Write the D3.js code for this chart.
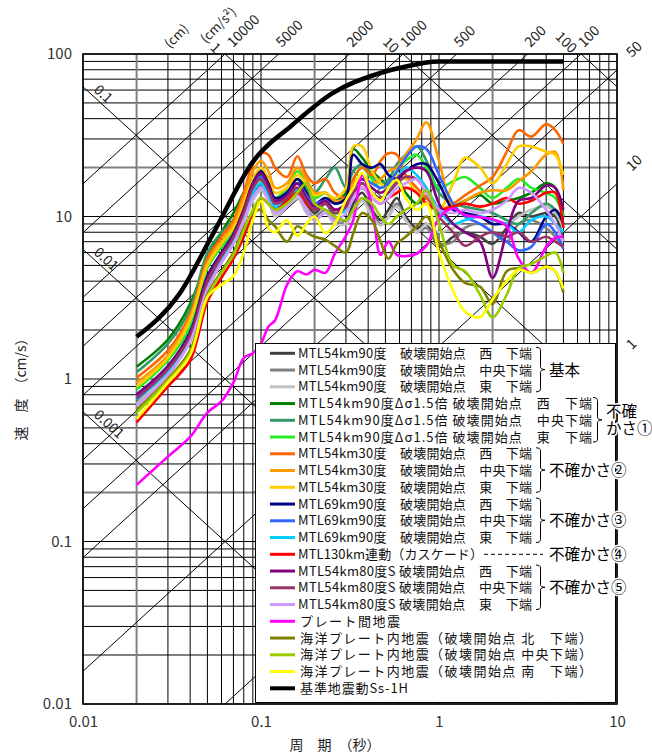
<!DOCTYPE html>
<html>
<head>
<meta charset="utf-8">
<script src="https://cdn.jsdelivr.net/npm/d3@7"></script>
<style>
body { margin: 0; background: #fff; }
text { font-family: "Noto Sans CJK JP", "Noto Sans", sans-serif; }
</style>
</head>
<body>
<svg id="chart" width="652" height="753"></svg>
<script>
// periods (s) shared by the computed spectra
const periods = [0.02,0.03,0.04,0.05,0.06,0.07,0.08,0.09,0.1,0.11,0.12,0.14,0.16,0.18,0.2,0.23,0.26,0.3,0.33,0.37,
  0.42,0.47,0.52,0.58,0.65,0.75,0.85,1.0,1.2,1.4,1.7,2.0,2.4,2.8,3.3,4.0,4.5,5.0];

// velocity response (cm/s)
const kihonW = [0.73,1.15,1.8,3.8,5.5,7.2,10,13.5,16,14,11,13,15,12,10.5,12,10,9.5,12,14,11,9.5,11,13,10,8.5,9,6.5,7.5,8,7.5,6.8,8.5,10.5,10,10.5,10,7];
const kihonC = [0.72,1.1,1.75,3.6,5.3,7,9.5,13,15,13,10.5,12,14,11,10,11,9.5,9,11,13,10.5,9,10,12,9.5,8,8.5,6.8,7,8.5,9,8,7,9,9.5,8.5,7.5,6.5];
const kihonE = [0.7,1.1,1.7,3.5,5.2,6.8,9.2,12.5,14.5,12.5,10,11.5,13,10.5,9.5,10.5,9,9,10.5,12.5,10,8.8,10,11.5,9.5,8,9,8,8.5,9.5,10,9.5,9,10,11,11.5,10.5,8.5];
const dsigW = [1.19,1.75,2.9,5.5,8,10.5,14,17,18,14.5,12.5,14,17,15,13,14,12.5,14,26,23,19,17,15.5,17,14,12,13,11,11.5,12.5,13.5,12,12.5,13,14,16,15,10];
const dsigC = [1.1,1.65,2.7,6,8,9.5,12.5,16,17,15,13,14.5,16,15,14,17,20,15,19,21,18,16,17,21,24,27,22,14,12,11.5,11,10.5,9.5,9,10.5,12,11,9];
const dsigE = [0.86,1.3,2.1,4.8,6.5,8,11,15,17,15,13,15,19,16,13,14,12,13,17,20,17,15,16,19,22,24,20,15,16.5,17.5,15,13,15,17,15,14,13,10];
const dip30W = [1.02,1.5,2.5,5.5,7.5,9.5,14,21,24.5,24,20,17.5,23.5,18,16,17,14,13,17,20,18,22,24.5,24,18,15,13,11,12,13.5,15.5,17.5,25,34,31,37,34,28];
const dip30C = [0.95,1.4,2.4,5.2,7,9,13,19,22,19,15,16,20,17,14,14,12.5,13,16,18,16,17,19,20,24,30,38,22,11.5,12.5,14,14.5,14.5,16.5,19,24,25,14.5];
const dip30E = [0.9,1.35,2.3,5,6.8,8.5,12,17,20,17,14,15,18,16,13.5,14,13,15,27,27,19,16,15,18,17,14,12,11,16,23,20,16,21,27,27,25,24,18];
const len69W = [0.8,1.2,1.95,4.3,6,7.8,11,16,19,16,13,14,17,14,12,13,12,13,24,21,20,21,18,17,19,21,21,16,11,10.5,10,9,9,8,7,10,11,9];
const len69C = [0.78,1.15,1.9,4.1,5.8,7.5,10.5,15,17.5,15,12,13.5,16,13.5,12,12.5,11,12,15,17,16,15,16,19,23,27,26,18,12,10,9,8,7,6.2,6.5,9,8,6.3];
const len69E = [0.75,1.12,1.85,4,5.6,7.2,10,14,16,13.5,11.5,12.5,14.5,12.5,11,12,10.5,11,14,16,14,13,14,17,20,18,15,11,9,9.5,10,9.5,9,8,9.5,10,9,8];
const cascade130 = [0.54,0.9,1.3,3,4.2,5.5,7.5,10.5,13,12,11,12.5,14,12,11,12,11,11.5,14,15,13,12,13,14,15,14,12,11,11.5,12,11.5,12,13,12,12.5,14,14,8.5];
const dip80W = [0.8,1.2,1.9,4.2,5.9,7.7,11,16,18.5,15.5,12.5,13.5,16,13,11.5,12.5,11,12,15,17,15,14,15,17,19,20,19,12,9,8,7,4.2,8,12.5,13,15.5,15,11];
const dip80C = [0.76,1.15,1.85,4,5.7,7.4,10.5,15,17,14.5,12,13,15,12.5,11,12,10.5,11.5,14,16,14,13,14,16,17.5,17,14,10,8,6.6,7.5,8,7.5,8,7,7.5,7,6.5];
const dip80E = [0.68,1.05,1.7,3.6,5.2,6.8,9.5,13,15,12.5,10.5,11.5,13.5,11,9.5,10.5,9.5,10.5,13,15,13,12,13,15,16,17,14,11,10.5,11,10.5,11,12.5,15,14,11,9,7];
const interplate = [0.223,0.333,0.44,0.62,0.73,0.95,1.35,1.44,1.65,2.1,2.3,3.8,4.6,4.4,4.7,4.5,5.9,7.6,9.5,18,11.5,5.8,7,5.8,5.7,5.9,6.6,9.8,11.2,10.2,9.9,9.6,8.7,5.5,4.5,6.5,7.4,7.5];
const oceanN = [0.645,1.0,1.5,3.3,4.6,6,8.5,10.5,11,9.5,8.7,7,8.7,8,7.5,7.2,6.6,6,7.9,10.5,9.5,7,5.5,6.8,7.5,8.7,10,7,4.7,3.9,3.7,2.9,4.6,4.8,4.5,4.9,4.6,3.4];
const oceanC = [0.62,0.98,1.45,3.2,4.5,5.8,8.2,11,13,12,11,12,14,16,12,11,10,9.5,11,13,12,10,9,10,11,12,14.5,9,5,4.6,3.3,2.4,3.3,4.8,5.1,5.7,6,4.5];
const oceanS = [0.57,0.95,1.4,3.2,3.8,4.3,6,9.5,12.4,8.5,8,9.5,7.6,9,10,7.9,9,12.6,15,18.5,14,12.6,15,16.8,13,11,12,6,3.5,2.6,2.4,3.1,4,4.7,4.5,4.9,4.6,3.6];

// design spectrum Ss-1H
const ssPeriods = [0.02,0.035,0.054,0.09,0.15,0.25,0.5,0.6,1.0,5.0];
const ssValues = [1.82,3.37,7.9,21.7,36.6,57,78,82,90,90];

const seriesValues = [kihonW,kihonC,kihonE,dsigW,dsigC,dsigE,dip30W,dip30C,dip30E,len69W,len69C,len69E,
  cascade130,dip80W,dip80C,dip80E,interplate,oceanN,oceanC,oceanS];

const legendLabels = [
  "MTL54km90度　破壊開始点　西　下端",
  "MTL54km90度　破壊開始点　中央下端",
  "MTL54km90度　破壊開始点　東　下端",
  "MTL54km90度Δσ1.5倍 破壊開始点　西　下端",
  "MTL54km90度Δσ1.5倍 破壊開始点　中央下端",
  "MTL54km90度Δσ1.5倍 破壊開始点　東　下端",
  "MTL54km30度　破壊開始点　西　下端",
  "MTL54km30度　破壊開始点　中央下端",
  "MTL54km30度　破壊開始点　東　下端",
  "MTL69km90度　破壊開始点　西　下端",
  "MTL69km90度　破壊開始点　中央下端",
  "MTL69km90度　破壊開始点　東　下端",
  "MTL130km連動（カスケード）",
  "MTL54km80度S 破壊開始点　西　下端",
  "MTL54km80度S 破壊開始点　中央下端",
  "MTL54km80度S 破壊開始点　東　下端",
  "プレート間地震",
  "海洋プレート内地震（破壊開始点 北　下端）",
  "海洋プレート内地震（破壊開始点 中央下端）",
  "海洋プレート内地震（破壊開始点 南　下端）",
  "基準地震動Ss-1H"
];
const seriesColors = ["#404040","#808080","#c0c0c0","#008000","#339966","#22ee22","#ff6600","#ff9900","#ffcc00",
  "#000080","#3366ff","#00ccff","#ff0000","#800080","#993366","#cc99ff","#ff00ff","#808000","#99cc00","#ffff00","#000000"];
const legendWidths = [234,234,234,294,294,294,234,234,234,234,234,234,185,234,234,234,100,292,292,292,108];

const groupLabels = [
  {first: 0, last: 2, text: ["基本"]},
  {first: 3, last: 5, text: ["不確", "かさ①"]},
  {first: 6, last: 8, text: ["不確かさ②"]},
  {first: 9, last: 11, text: ["不確かさ③"]},
  {first: 13, last: 15, text: ["不確かさ⑤"]}
];

const dispLines = [0.001, 0.01, 0.1, 1, 10, 100];           // cm
const accLines = [1, 10, 50, 100, 200, 500, 1000, 2000, 5000, 10000]; // cm/s2

const xTicks = [0.01, 0.1, 1, 10];
const xTickLabels = ["0.01", "0.1", "1", "10"];
const yTicks = [0.01, 0.1, 1, 10, 100];
const yTickLabels = ["0.01", "0.1", "1", "10", "100"];

const svg = d3.select("#chart");
const L = 83, R = 617, T = 54, B = 704;
const xs = d3.scaleLog().domain([0.01, 10]).range([L, R]);
const ys = d3.scaleLog().domain([0.01, 100]).range([B, T]);

svg.append("defs").append("clipPath").attr("id", "plot")
  .append("rect").attr("x", L).attr("y", T).attr("width", R - L).attr("height", B - T);

// log grid
function logGrid(lo, hi) {
  const out = [];
  for (let e = Math.round(Math.log10(lo)); e < Math.round(Math.log10(hi)); e++) {
    for (let m = 1; m <= 9; m++) out.push({v: m * Math.pow(10, e), m: m});
  }
  out.push({v: hi, m: 1});
  return out;
}
const grid = svg.append("g");
logGrid(0.01, 100).forEach(d => {
  grid.append("line").attr("x1", L).attr("x2", R).attr("y1", ys(d.v)).attr("y2", ys(d.v))
    .attr("stroke", d.m === 2 ? "#808080" : "#000").attr("stroke-width", d.m === 2 ? 2 : 1);
});
logGrid(0.01, 10).forEach(d => {
  grid.append("line").attr("y1", T).attr("y2", B).attr("x1", xs(d.v)).attr("x2", xs(d.v))
    .attr("stroke", d.m === 2 ? "#808080" : "#000").attr("stroke-width", d.m === 2 ? 2 : 1);
});

// tripartite diagonals
const diag = svg.append("g").attr("clip-path", "url(#plot)");
const TP = 2 * Math.PI;
dispLines.forEach(D => {
  diag.append("line").attr("x1", xs(0.01)).attr("y1", ys(TP * D / 0.01))
    .attr("x2", xs(10)).attr("y2", ys(TP * D / 10)).attr("stroke", "#000").attr("stroke-width", 1);
});
accLines.forEach(A => {
  diag.append("line").attr("x1", xs(0.01)).attr("y1", ys(A * 0.01 / TP))
    .attr("x2", xs(10)).attr("y2", ys(A * 10 / TP)).attr("stroke", "#000").attr("stroke-width", 1);
});

// diagonal labels
const ang = Math.atan((ys(1) - ys(10)) / (xs(1) - xs(0.1))) * 180 / Math.PI;
const lab = svg.append("g").attr("font-size", 14).attr("fill", "#222");
dispLines.forEach(D => {
  const vLeft = TP * D / 0.01;
  if (vLeft <= 100) {
    const x0 = 93, t0 = xs.invert(x0);
    lab.append("text").attr("transform", `translate(${x0},${ys(TP * D / t0) - 5}) rotate(${ang})`)
      .text(String(D));
  } else {
    const xt = xs(TP * D / 100);
    lab.append("text").attr("text-anchor", "end")
      .attr("transform", `translate(${xt - 10},${T}) rotate(45)`).text(String(D));
  }
});
accLines.forEach(A => {
  const tTop = TP * 100 / A;
  if (tTop <= 10) {
    const xt = xs(tTop) + (A === 10000 ? 8 : 3);
    lab.append("text").attr("transform", `translate(${xt},${T - 6}) rotate(-45)`).text(String(A));
  } else {
    const yr = ys(A * 10 / TP);
    lab.append("text").attr("transform", `translate(632,${A === 1 ? yr + 4 : yr - 12}) rotate(-45)`).text(String(A));
  }
});
lab.append("text").attr("font-size", 13).attr("transform", "translate(170,49) rotate(-45)").text("(cm)");
lab.append("text").attr("font-size", 13).attr("transform", "translate(206,44) rotate(-45)").text("(cm/s²)");

// plot frame
svg.append("rect").attr("x", L).attr("y", T).attr("width", R - L).attr("height", B - T)
  .attr("fill", "none").attr("stroke", "#000").attr("stroke-width", 1.5);

// spectra
const line = d3.line().x(d => xs(d[0])).y(d => ys(d[1])).curve(d3.curveCatmullRom.alpha(0.5));
const plot = svg.append("g").attr("clip-path", "url(#plot)");
seriesValues.forEach((vals, i) => {
  plot.append("path").datum(periods.map((p, j) => [p, vals[j]]))
    .attr("d", line).attr("fill", "none").attr("stroke", seriesColors[i])
    .attr("stroke-width", 2.6).attr("stroke-linejoin", "round");
});
plot.append("path").datum(ssPeriods.map((p, j) => [p, ssValues[j]]))
  .attr("d", d3.line().x(d => xs(d[0])).y(d => ys(d[1])).curve(d3.curveMonotoneX))
  .attr("fill", "none").attr("stroke", "#000").attr("stroke-width", 4.5);

// axes
const yAxis = svg.append("g").attr("transform", `translate(${L},0)`)
  .call(d3.axisLeft(ys).tickValues(yTicks).tickFormat((d, i) => yTickLabels[i]).tickSize(0).tickPadding(11));
const xAxis = svg.append("g").attr("transform", `translate(0,${B})`)
  .call(d3.axisBottom(xs).tickValues(xTicks).tickFormat((d, i) => xTickLabels[i]).tickSize(0).tickPadding(12));
[yAxis, xAxis].forEach(a => {
  a.select(".domain").remove();
  a.selectAll("text").attr("font-size", 15).attr("fill", "#333")
    .attr("font-family", "\"Noto Sans CJK JP\", sans-serif");
});

svg.append("text").attr("transform", "translate(26,386) rotate(-90)").attr("text-anchor", "middle")
  .attr("font-size", 14).attr("fill", "#222").text("速　度　（cm/s）");
svg.append("text").attr("x", 335).attr("y", 750).attr("text-anchor", "middle")
  .attr("font-size", 14).attr("fill", "#222").text("周　期　（秒）");

// legend
const lg = svg.append("g");
lg.append("rect").attr("x", 255.5).attr("y", 343.5).attr("width", 360).attr("height", 359)
  .attr("fill", "#fff").attr("stroke", "#000").attr("stroke-width", 1);
const rowY = i => 353.3 + i * 16.75;
legendLabels.forEach((t, i) => {
  lg.append("line").attr("x1", 270).attr("x2", 295).attr("y1", rowY(i)).attr("y2", rowY(i))
    .attr("stroke", seriesColors[i]).attr("stroke-width", i === 20 ? 4 : 3);
  lg.append("text").attr("x", i >= 16 ? 300 : 298).attr("y", rowY(i) + 4.5)
    .attr("font-size", 13).attr("fill", "#111")
    .attr("textLength", legendWidths[i]).attr("lengthAdjust", "spacing").text(t);
});
function brace(x, y1, y2, w) {
  const ym = (y1 + y2) / 2, xm = x + w / 2, r = 3;
  return `M${x},${y1} Q${xm},${y1} ${xm},${y1 + r} L${xm},${ym - r} Q${xm},${ym} ${x + w},${ym}` +
    ` Q${xm},${ym} ${xm},${ym + r} L${xm},${y2 - r} Q${xm},${y2} ${x},${y2}`;
}
groupLabels.forEach(g => {
  const bx = g.first === 3 ? 593 : 536;
  const y1 = rowY(g.first) - 6, y2 = rowY(g.last) + 5;
  lg.append("path").attr("d", brace(bx, y1, y2, 9)).attr("fill", "none").attr("stroke", "#000").attr("stroke-width", 1);
  const ym = (y1 + y2) / 2;
  g.text.forEach((s, k) => {
    lg.append("text").attr("x", bx + 13).attr("y", g.text.length === 1 ? ym + 6 : ym - 3 + k * 17)
      .attr("font-size", 15.5).attr("fill", "#000")
      .attr("stroke", "#fff").attr("stroke-width", 3).attr("paint-order", "stroke").text(s);
  });
});
lg.append("line").attr("x1", 484).attr("x2", 543).attr("y1", rowY(12)).attr("y2", rowY(12))
  .attr("stroke", "#000").attr("stroke-width", 1).attr("stroke-dasharray", "4,3");
lg.append("text").attr("x", 549).attr("y", rowY(12) + 6).attr("font-size", 15.5).attr("fill", "#000")
  .attr("stroke", "#fff").attr("stroke-width", 3).attr("paint-order", "stroke").text("不確かさ④");
</script>
</body>
</html>
